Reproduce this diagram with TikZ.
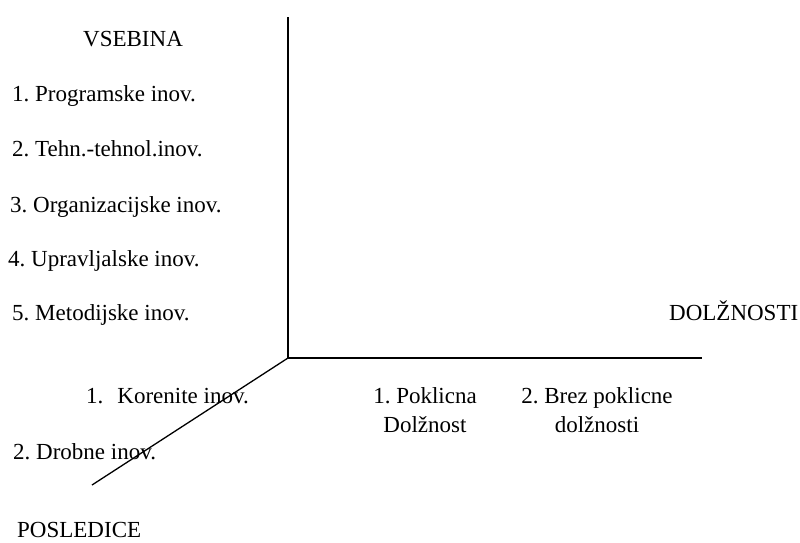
\documentclass[tikz,border=0pt]{standalone}
\usepackage{fontspec}
\setmainfont{Liberation Serif}
\frenchspacing
\begin{document}
\begin{tikzpicture}[x=1pt,y=-1pt,
  lbl/.style={inner sep=0pt,anchor=base west,font=\fontsize{23}{29}\selectfont},
  lblc/.style={inner sep=0pt,anchor=base,align=center,font=\fontsize{23}{29}\selectfont},
  axis/.style={line width=1.3pt,black}]
\useasboundingbox (0,0) rectangle (800,542);
\coordinate (O) at (288,358);
\coordinate (T) at (288,17);
\coordinate (R) at (702,358);
\coordinate (D) at (92,485);
\draw[axis] (T) -- (O) -- (R);
\draw[axis] (O) -- (D);
\node[lbl] (vs) at (83,46) {VSEBINA};
\node[lbl] (v1) at (12,101) {1. Programske inov.};
\node[lbl] (v2) at (12,156) {2. Tehn.-tehnol.inov.};
\node[lbl] (v3) at (10,212) {3. Organizacijske inov.};
\node[lbl] (v4) at (8,266) {4. Upravljalske inov.};
\node[lbl] (v5) at (12,320) {5. Metodijske inov.};
\node[lbl] (p1) at (86,403) {1.\hspace{14pt}Korenite inov.};
\node[lbl] (p2) at (13,459) {2. Drobne inov.};
\node[lbl] (pos) at (17,537) {POSLEDICE};
\node[lbl] (dol) at (669,320) {DOLŽNOSTI};
\node[lblc] (d1) at (425,432) {1. Poklicna\\Dolžnost};
\node[lblc] (d2) at (597,432) {2. Brez poklicne\\dolžnosti};
\end{tikzpicture}
\end{document}
